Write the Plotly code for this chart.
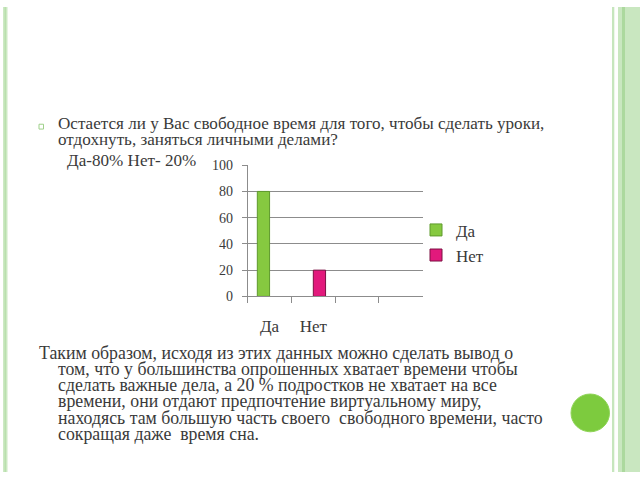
import plotly.graph_objects as go

# ---- data ----
categories = ["Да", "Нет", " ", "  "]
series_names = ["Да", "Нет"]
values_da = [80, None, None, None]
values_net = [None, 20, None, None]
y_ticks = [0, 20, 40, 60, 80, 100]

question_lines = [
    "Остается ли у Вас свободное время для того, чтобы сделать уроки,",
    "отдохнуть, заняться личными делами?",
]
answer_line = "Да-80% Нет- 20%"
conclusion_lines = [
    "Таким образом, исходя из этих данных можно сделать вывод о",
    "том, что у большинства опрошенных хватает времени чтобы",
    "сделать важные дела, а 20 % подростков не хватает на все",
    "времени, они отдают предпочтение виртуальному миру,",
    "находясь там большую часть своего  свободного времени, часто",
    "сокращая даже  время сна.",
]

W, H = 640, 480
FONT = "Liberation Serif"
TXT = "#3a3a3a"
GRID = "#8c8c8c"


def px(x):
    return x / W


def py(y):
    return 1 - y / H


fig = go.Figure()
fig.add_trace(go.Bar(x=categories, y=values_da, name=series_names[0],
                     marker=dict(color="#86c940", line=dict(color="#5e9a2c", width=1))))
fig.add_trace(go.Bar(x=categories, y=values_net, name=series_names[1],
                     marker=dict(color="#e2197c", line=dict(color="#7c1043", width=1))))

annotations = []
for i, t in enumerate(question_lines):
    annotations.append(dict(text=t, x=px(56), y=py([120.5, 137][i]), xref="paper", yref="paper",
                            xanchor="left", yanchor="middle", showarrow=False,
                            font=dict(family=FONT, size=17.1, color=TXT)))
annotations.append(dict(text=answer_line, x=px(64.5), y=py(158.5), xref="paper", yref="paper",
                        xanchor="left", yanchor="middle", showarrow=False,
                        font=dict(family=FONT, size=17.1, color=TXT)))
cy = [357, 373.7, 390.4, 407.1, 423.8, 440.5]
for i, t in enumerate(conclusion_lines):
    annotations.append(dict(text=t, x=px(37 if i == 0 else 56), y=py(cy[i]), xref="paper", yref="paper",
                            xanchor="left", yanchor="middle", showarrow=False,
                            font=dict(family=FONT, size=17.8, color=TXT)))

shapes = [
    dict(type="rect", xref="paper", yref="paper", x0=px(3), x1=px(7.5), y0=0, y1=1,
         fillcolor="#cde9c4", line=dict(width=0), layer="below"),
    dict(type="rect", xref="paper", yref="paper", x0=px(4.5), x1=px(6), y0=0, y1=1,
         fillcolor="#b9e0ad", line=dict(width=0), layer="below"),
    dict(type="rect", xref="paper", yref="paper", x0=px(612), x1=px(614.3), y0=0, y1=1,
         fillcolor="#c6e6bd", line=dict(width=0), layer="below"),
    dict(type="rect", xref="paper", yref="paper", x0=px(618), x1=px(640), y0=0, y1=1,
         fillcolor="#c9e7c0", line=dict(width=0), layer="below"),
    dict(type="rect", xref="paper", yref="paper", x0=px(622), x1=px(625), y0=0, y1=1,
         fillcolor="#acd99e", line=dict(width=0), layer="below"),
    dict(type="circle", xref="paper", yref="paper", x0=px(571), x1=px(609.5), y0=py(438.5), y1=py(399.5),
         fillcolor="#7dcb3e", line=dict(color="#8fd458", width=1)),
    dict(type="rect", xref="paper", yref="paper", x0=px(39), x1=px(43.5), y0=py(126), y1=py(121),
         fillcolor="rgba(0,0,0,0)", line=dict(color="#9fd08a", width=1)),
]

fig.update_layout(
    width=W, height=H,
    margin=dict(l=0, r=0, t=0, b=0),
    paper_bgcolor="white", plot_bgcolor="white",
    barmode="group", bargap=0.44, bargroupgap=0,
    showlegend=True,
    legend=dict(x=px(416), y=py(212), xanchor="left", yanchor="top",
                font=dict(family=FONT, size=17, color=TXT),
                bgcolor="rgba(0,0,0,0)", itemwidth=30, tracegroupgap=0),
    annotations=annotations,
    shapes=shapes,
    xaxis=dict(domain=[px(247.7), px(422.7)], type="category",
               categoryorder="array", categoryarray=categories,
               tickson="boundaries", ticks="outside", ticklen=6, tickcolor=GRID,
               showline=True, linecolor=GRID, linewidth=1, showgrid=False,
               tickfont=dict(family=FONT, size=17, color=TXT), ticklabelstandoff=14,
               fixedrange=True),
    yaxis=dict(domain=[py(298.7), py(163.3)], range=[0, 100], tickvals=y_ticks,
               ticks="outside", ticklen=5, tickcolor=GRID,
               showline=True, linecolor=GRID, linewidth=1,
               showgrid=True, gridcolor=GRID, gridwidth=1, zeroline=False,
               tickfont=dict(family=FONT, size=14, color=TXT), ticklabelstandoff=6,
               fixedrange=True),
)

fig.write_html("out.html")
